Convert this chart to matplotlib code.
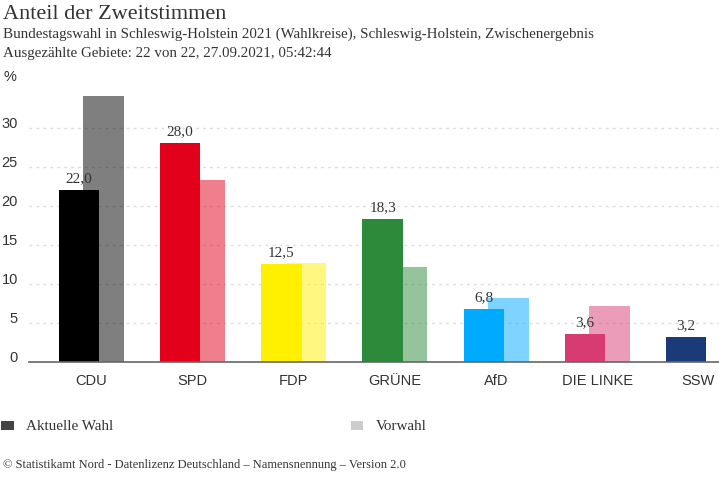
import matplotlib
matplotlib.use("Agg")
import matplotlib.pyplot as plt
from matplotlib.patches import Rectangle
import numpy as np

# -- Data --
parties = ["CDU", "SPD", "FDP", "GRÜNE", "AfD", "DIE LINKE", "SSW"]
aktuell = [22.0, 28.0, 12.5, 18.3, 6.8, 3.6, 3.2]
vorwahl = [34.0, 23.3, 12.7, 12.1, 8.2, 7.2, np.nan]
labels = ["22,0", "28,0", "12,5", "18,3", "6,8", "3,6", "3,2"]
colors = ["#000000", "#e2001a", "#fff000", "#2d8a3a", "#00aaff", "#d83a72", "#1a3a78"]
y_ticks = [5, 10, 15, 20, 25, 30]

W, H = 719, 479
SERIF = "Liberation Serif"
SANS = "Liberation Sans"
TEXT = "#333333"


def fx(px):
    return px / W


def fy(px):
    return 1 - px / H


fig = plt.figure(figsize=(W / 100, H / 100), dpi=100)

# axes placed in pixels: baseline y=362, 7.81 px per percent, 101.2 px per party
ax = fig.add_axes([fx(29), fy(362), fx(719 - 29), (362 - 90) / H])
ax.set_xlim((29 - 79) / 101.2, (719 - 79) / 101.2)
ax.set_ylim(0, (362 - 90) / 7.81)

x = np.arange(len(parties))
bar_w = 40.5 / 101.2
offset = 24.5 / 101.2

ax.bar(x + offset, vorwahl, bar_w, color=colors, alpha=0.5, linewidth=0, zorder=2)
ax.bar(x, aktuell, bar_w, color=colors, linewidth=0, zorder=3)

for xi, val, lab in zip(x, aktuell, labels):
    ax.annotate(lab, (xi, val), xytext=(0, 3.5), textcoords="offset points",
                ha="center", va="bottom", fontsize=11, family=SERIF,
                color=TEXT, zorder=5)

for s in ["top", "right", "left"]:
    ax.spines[s].set_visible(False)
ax.spines["bottom"].set_color("#666666")
ax.spines["bottom"].set_linewidth(1.2)
ax.spines["bottom"].set_zorder(4)

ax.set_yticks([0] + y_ticks)
ax.set_yticklabels([str(t) for t in [0] + y_ticks], family=SANS, fontsize=10.5, color=TEXT)
ax.tick_params(axis="y", length=0, pad=8)
for lab in ax.get_yticklabels():
    lab.set_va("baseline")
ax.set_xticks(x + 12 / 101.2)
ax.set_xticklabels(parties, family=SANS, fontsize=10.5, color=TEXT)
ax.tick_params(axis="x", length=0, pad=8.5)

for t in y_ticks:
    ax.axhline(t, color="#dddddd", linewidth=1, linestyle=(0, (2, 3)), zorder=1)

# -- Header --
fig.text(fx(3), fy(19), "Anteil der Zweitstimmen", family=SERIF, fontsize=16.05,
         color=TEXT, ha="left", va="baseline")
fig.text(fx(3), fy(38), "Bundestagswahl in Schleswig-Holstein 2021 (Wahlkreise), Schleswig-Holstein, Zwischenergebnis",
         family=SERIF, fontsize=10.85, color=TEXT, ha="left", va="baseline")
fig.text(fx(3), fy(57), "Ausgezählte Gebiete: 22 von 22, 27.09.2021, 05:42:44",
         family=SERIF, fontsize=10.85, color=TEXT, ha="left", va="baseline")
fig.text(fx(4), fy(81), "%", family=SANS, fontsize=10.5, color=TEXT, ha="left", va="baseline")

# -- Legend --
for px, col, name in [(1, "#444444", "Aktuelle Wahl"), (351, "#cccccc", "Vorwahl")]:
    fig.add_artist(Rectangle((fx(px), fy(430)), 12.5 / W, 9.5 / H, color=col,
                             linewidth=0, transform=fig.transFigure))
    fig.text(fx(px + 25), fy(430), name, family=SERIF, fontsize=10.9, color=TEXT,
             ha="left", va="baseline")

# -- Footer --
fig.text(fx(3), fy(468), "© Statistikamt Nord - Datenlizenz Deutschland – Namensnennung – Version 2.0",
         family=SERIF, fontsize=9, color=TEXT, ha="left", va="baseline")

fig.savefig("out.png", dpi=100)
